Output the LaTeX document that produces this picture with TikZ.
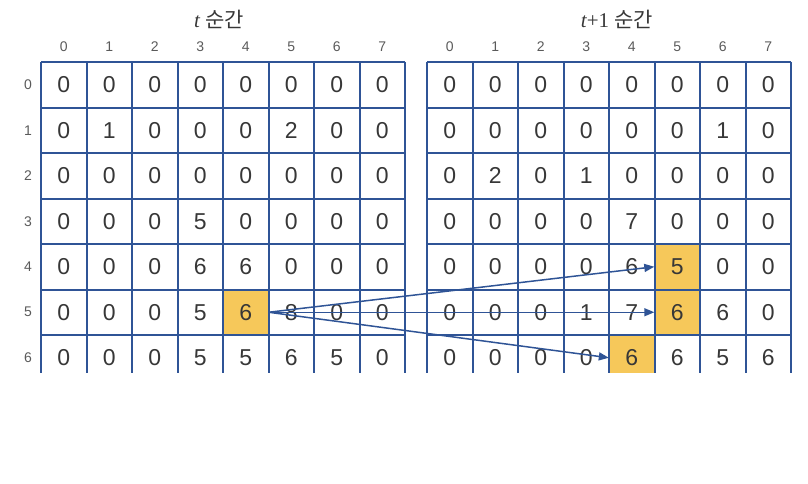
\documentclass[tikz,border=0pt]{standalone}
\usepackage{fontspec}
\setmainfont{Liberation Sans}
\newfontfamily\kr{Noto Sans CJK KR}
\newfontfamily\tms{Liberation Serif}
\usetikzlibrary{arrows.meta}
\definecolor{gridblue}{RGB}{47,84,150}
\definecolor{hl}{RGB}{246,200,90}
\definecolor{txt}{RGB}{55,55,55}
\definecolor{lbl}{RGB}{90,90,90}
\begin{document}
\begin{tikzpicture}[x=1pt,y=-1pt,
  cell/.style={minimum width=45.5pt,minimum height=45.5pt,inner sep=0pt,text=txt,font=\fontsize{23}{23}\selectfont},
  idx/.style={text=lbl,font=\fontsize{14}{14}\selectfont,inner sep=0pt},
  gl/.style={gridblue,line width=2pt},
  arr/.style={gridblue,line width=1.5pt,-{Triangle[length=10pt,width=8pt]}},
  ttl/.style={inner sep=0pt,text=txt,font=\fontsize{21}{21}\selectfont}]
\useasboundingbox (0,0) rectangle (808,484);
% highlights
\fill[hl] (223,289) rectangle (269,335);
\fill[hl] (654,244) rectangle (700,289);
\fill[hl] (654,289) rectangle (700,335);
\fill[hl] (609,335) rectangle (654,373);
% grids
\foreach \xo in {41,427}{
  \foreach \k in {0,...,6}{
    \pgfmathsetmacro\yy{round(62+45.5*\k)}
    \draw[gl] (\xo,\yy) -- (\xo+364,\yy);}
  \foreach \k in {0,...,8}{
    \pgfmathsetmacro\xx{round(\xo+45.5*\k)}
    \draw[gl] (\xx,62) -- (\xx,373);}
}
% titles
\node[ttl] (T1) at (219,19) {\tms\itshape t\upshape\ \kr 순간};
\node[ttl] (T2) at (617,19) {\tms\itshape t\upshape+1\ \kr 순간};
% index labels
\foreach \c in {0,...,7}{
  \node[idx] (LC-\c) at (41+22.75+45.5*\c,47) {\c};
  \node[idx] (RC-\c) at (427+22.75+45.5*\c,47) {\c};
}
\foreach \r in {0,...,6}{
  \node[idx] (LR-\r) at (28,62+22.75+45.5*\r) {\r};
}
% left cells
\foreach \r/\vals in {0/{0,0,0,0,0,0,0,0},1/{0,1,0,0,0,2,0,0},2/{0,0,0,0,0,0,0,0},3/{0,0,0,5,0,0,0,0},4/{0,0,0,6,6,0,0,0},5/{0,0,0,5,6,8,0,0},6/{0,0,0,5,5,6,5,0}}{
  \foreach \v [count=\c from 0] in \vals {
    \node[cell] (L-\r-\c) at (41+22.75+45.5*\c,62+22.75+45.5*\r) {\v};
  }
}
% right cells
\foreach \r/\vals in {0/{0,0,0,0,0,0,0,0},1/{0,0,0,0,0,0,1,0},2/{0,2,0,1,0,0,0,0},3/{0,0,0,0,7,0,0,0},4/{0,0,0,0,6,5,0,0},5/{0,0,0,1,7,6,6,0},6/{0,0,0,0,6,6,5,6}}{
  \foreach \v [count=\c from 0] in \vals {
    \node[cell] (R-\r-\c) at (427+22.75+45.5*\c,62+22.75+45.5*\r) {\v};
  }
}
% arrows
\draw[arr] (L-5-4.east) -- (R-4-5.west);
\draw[arr] (L-5-4.east) -- (R-5-5.west);
\draw[arr] (L-5-4.east) -- (R-6-4.west);
\end{tikzpicture}
\end{document}
